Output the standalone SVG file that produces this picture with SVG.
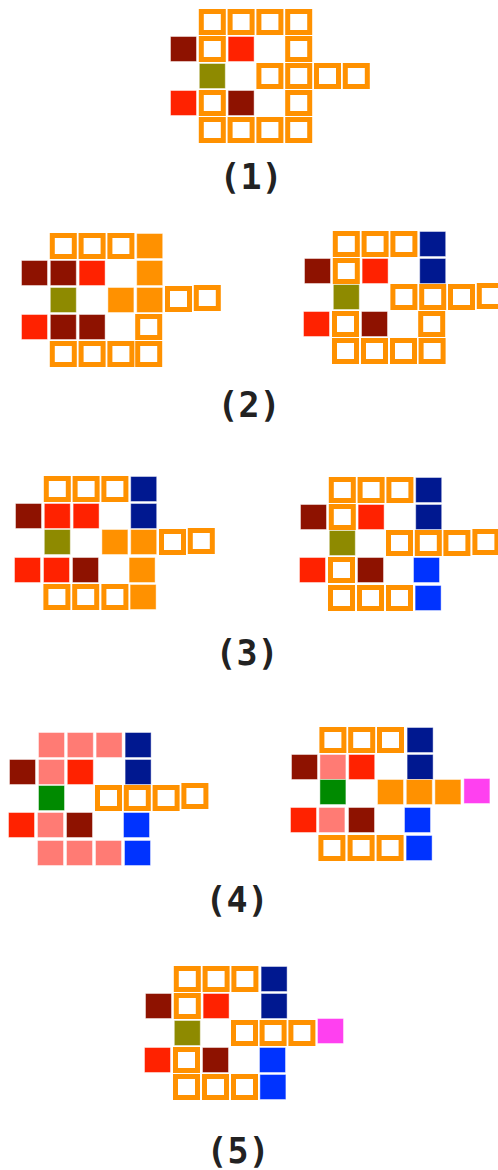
<svg xmlns="http://www.w3.org/2000/svg" xmlns:xlink="http://www.w3.org/1999/xlink" width="498" height="1170" viewBox="0 0 498 1170">
<style>
.o{fill:#fff;stroke:#FF9100;stroke-width:5}
.s{stroke:#fff;stroke-opacity:.45;stroke-width:1}
.f{fill:#FF9100}
.dr{fill:#8E1200}
.r{fill:#FF2200}
.ol{fill:#8E8A00}
.nv{fill:#001890}
.bl{fill:#0033FF}
.pk{fill:#FF7B74}
.gr{fill:#008A00}
.mg{fill:#FF40F0}
.lbl{font-family:"DejaVu Sans Mono","Liberation Mono",monospace;font-weight:bold;font-size:35px;fill:#222;text-anchor:middle}
</style>
<defs>
<rect id="ob" x="2.5" y="2.5" width="22" height="21"/>
<rect id="sq" x="0.5" y="0.5" width="26" height="25"/>
</defs>
<rect width="498" height="1170" fill="#fff"/>

<g id="fig1" transform="translate(170,9)">
<use href="#ob" class="o" x="28.8" y="0"/><use href="#ob" class="o" x="57.6" y="0"/><use href="#ob" class="o" x="86.4" y="0"/><use href="#ob" class="o" x="115.2" y="0"/>
<use href="#sq" class="s dr" x="0" y="27"/><use href="#ob" class="o" x="28.8" y="27"/><use href="#sq" class="s r" x="57.6" y="27"/><use href="#ob" class="o" x="115.2" y="27"/>
<use href="#sq" class="s ol" x="28.8" y="54"/><use href="#ob" class="o" x="86.4" y="54"/><use href="#ob" class="o" x="115.2" y="54"/><use href="#ob" class="o" x="144" y="54"/><use href="#ob" class="o" x="172.8" y="54"/>
<use href="#sq" class="s r" x="0" y="81"/><use href="#ob" class="o" x="28.8" y="81"/><use href="#sq" class="s dr" x="57.6" y="81"/><use href="#ob" class="o" x="115.2" y="81"/>
<use href="#ob" class="o" x="28.8" y="108"/><use href="#ob" class="o" x="57.6" y="108"/><use href="#ob" class="o" x="86.4" y="108"/><use href="#ob" class="o" x="115.2" y="108"/>
</g>
<text id="label1" class="lbl" x="251" y="189">(1)</text>

<g id="fig2a" transform="translate(21,233)">
<use href="#ob" class="o" x="28.8" y="0"/><use href="#ob" class="o" x="57.6" y="0"/><use href="#ob" class="o" x="86.4" y="0"/><use href="#sq" class="s f" x="115.2" y="0"/>
<use href="#sq" class="s dr" x="0" y="27"/><use href="#sq" class="s dr" x="28.8" y="27"/><use href="#sq" class="s r" x="57.6" y="27"/><use href="#sq" class="s f" x="115.2" y="27"/>
<use href="#sq" class="s ol" x="28.8" y="54"/><use href="#sq" class="s f" x="86.4" y="54"/><use href="#sq" class="s f" x="115.2" y="54"/><use href="#ob" class="o" x="144" y="53"/><use href="#ob" class="o" x="172.8" y="52"/>
<use href="#sq" class="s r" x="0" y="81"/><use href="#sq" class="s dr" x="28.8" y="81"/><use href="#sq" class="s dr" x="57.6" y="81"/><use href="#ob" class="o" x="114.2" y="81"/>
<use href="#ob" class="o" x="28.8" y="108"/><use href="#ob" class="o" x="57.6" y="108"/><use href="#ob" class="o" x="86.4" y="108"/><use href="#ob" class="o" x="114.2" y="108"/>
</g>

<g id="fig2b" transform="translate(304,231)">
<use href="#ob" class="o" x="28.8" y="0"/><use href="#ob" class="o" x="57.6" y="0"/><use href="#ob" class="o" x="86.4" y="0"/><use href="#sq" class="s nv" x="115.2" y="0"/>
<use href="#sq" class="s dr" x="0" y="27"/><use href="#ob" class="o" x="28.8" y="27"/><use href="#sq" class="s r" x="57.6" y="27"/><use href="#sq" class="s nv" x="115.2" y="27"/>
<use href="#sq" class="s ol" x="28.8" y="53"/><use href="#ob" class="o" x="86.4" y="53"/><use href="#ob" class="o" x="115.2" y="53"/><use href="#ob" class="o" x="144" y="53"/><use href="#ob" class="o" x="172.8" y="52"/>
<use href="#sq" class="s r" x="-1" y="80"/><use href="#ob" class="o" x="28" y="80"/><use href="#sq" class="s dr" x="57" y="80"/><use href="#ob" class="o" x="114.2" y="80"/>
<use href="#ob" class="o" x="28" y="107"/><use href="#ob" class="o" x="57" y="107"/><use href="#ob" class="o" x="86" y="107"/><use href="#ob" class="o" x="114.6" y="107"/>
</g>
<text id="label2" class="lbl" x="249" y="417">(2)</text>

<g id="fig3a" transform="translate(15,476)">
<use href="#ob" class="o" x="28.8" y="0"/><use href="#ob" class="o" x="57.6" y="0"/><use href="#ob" class="o" x="86.4" y="0"/><use href="#sq" class="s nv" x="115.2" y="0"/>
<use href="#sq" class="s dr" x="0" y="27"/><use href="#sq" class="s r" x="28.8" y="27"/><use href="#sq" class="s r" x="57.6" y="27"/><use href="#sq" class="s nv" x="115.2" y="27"/>
<use href="#sq" class="s ol" x="28.8" y="53"/><use href="#sq" class="s f" x="86.4" y="53"/><use href="#sq" class="s f" x="115.2" y="53"/><use href="#ob" class="o" x="144" y="53"/><use href="#ob" class="o" x="172.8" y="52"/>
<use href="#sq" class="s r" x="-1" y="81"/><use href="#sq" class="s r" x="28" y="81"/><use href="#sq" class="s dr" x="57" y="81"/><use href="#sq" class="s f" x="113.6" y="81"/>
<use href="#ob" class="o" x="28.4" y="108"/><use href="#ob" class="o" x="57.2" y="108"/><use href="#ob" class="o" x="86.4" y="108"/><use href="#sq" class="s f" x="114.6" y="108"/>
</g>

<g id="fig3b" transform="translate(300,477)">
<use href="#ob" class="o" x="28.8" y="0"/><use href="#ob" class="o" x="57.6" y="0"/><use href="#ob" class="o" x="86.4" y="0"/><use href="#sq" class="s nv" x="115.2" y="0"/>
<use href="#sq" class="s dr" x="0" y="27"/><use href="#ob" class="o" x="28.8" y="27"/><use href="#sq" class="s r" x="57.6" y="27"/><use href="#sq" class="s nv" x="115.2" y="27"/>
<use href="#sq" class="s ol" x="28.8" y="53"/><use href="#ob" class="o" x="86" y="53"/><use href="#ob" class="o" x="114.8" y="53"/><use href="#ob" class="o" x="143.4" y="53"/><use href="#ob" class="o" x="172.4" y="52"/>
<use href="#sq" class="s r" x="-1" y="80"/><use href="#ob" class="o" x="28" y="80"/><use href="#sq" class="s dr" x="57" y="80"/><use href="#sq" class="s bl" x="113" y="80"/>
<use href="#ob" class="o" x="28" y="108"/><use href="#ob" class="o" x="57" y="108"/><use href="#ob" class="o" x="86" y="108"/><use href="#sq" class="s bl" x="114.6" y="108"/>
</g>
<text id="label3" class="lbl" x="247" y="665">(3)</text>

<g id="fig4a" transform="translate(9,732)">
<use href="#sq" class="s pk" x="29" y="0"/><use href="#sq" class="s pk" x="57.8" y="0"/><use href="#sq" class="s pk" x="86.6" y="0"/><use href="#sq" class="s nv" x="115.6" y="0"/>
<use href="#sq" class="s dr" x="0" y="27"/><use href="#sq" class="s pk" x="29" y="27"/><use href="#sq" class="s r" x="57.8" y="27"/><use href="#sq" class="s nv" x="115.6" y="27"/>
<use href="#sq" class="s gr" x="29" y="53"/><use href="#ob" class="o" x="86" y="53"/><use href="#ob" class="o" x="114.8" y="53"/><use href="#ob" class="o" x="143.6" y="53"/><use href="#ob" class="o" x="172.4" y="51"/>
<use href="#sq" class="s r" x="-1" y="80"/><use href="#sq" class="s pk" x="28" y="80"/><use href="#sq" class="s dr" x="57" y="80"/><use href="#sq" class="s bl" x="114" y="80"/>
<use href="#sq" class="s pk" x="28" y="108"/><use href="#sq" class="s pk" x="57" y="108"/><use href="#sq" class="s pk" x="86" y="108"/><use href="#sq" class="s bl" x="115" y="108"/>
</g>

<g id="fig4b" transform="translate(291,727)">
<use href="#ob" class="o" x="28.4" y="0"/><use href="#ob" class="o" x="57.2" y="0"/><use href="#ob" class="o" x="86" y="0"/><use href="#sq" class="s nv" x="115.6" y="0"/>
<use href="#sq" class="s dr" x="0" y="27"/><use href="#sq" class="s pk" x="28.4" y="27"/><use href="#sq" class="s r" x="57.2" y="27"/><use href="#sq" class="s nv" x="115.6" y="27"/>
<use href="#sq" class="s gr" x="28.4" y="52"/><use href="#sq" class="s f" x="86" y="52"/><use href="#sq" class="s f" x="114.8" y="52"/><use href="#sq" class="s f" x="143.4" y="52"/><use href="#sq" class="s mg" x="172.4" y="51"/>
<use href="#sq" class="s r" x="-1" y="80"/><use href="#sq" class="s pk" x="27.4" y="80"/><use href="#sq" class="s dr" x="57" y="80"/><use href="#sq" class="s bl" x="113" y="80"/>
<use href="#ob" class="o" x="27.4" y="108"/><use href="#ob" class="o" x="56.6" y="108"/><use href="#ob" class="o" x="85.6" y="108"/><use href="#sq" class="s bl" x="114.6" y="108"/>
</g>
<text id="label4" class="lbl" x="237" y="912">(4)</text>

<g id="fig5" transform="translate(145,966)">
<use href="#ob" class="o" x="28.8" y="0"/><use href="#ob" class="o" x="57.6" y="0"/><use href="#ob" class="o" x="86.4" y="0"/><use href="#sq" class="s nv" x="115.6" y="0"/>
<use href="#sq" class="s dr" x="0" y="27"/><use href="#ob" class="o" x="28.8" y="27"/><use href="#sq" class="s r" x="57.6" y="27"/><use href="#sq" class="s nv" x="115.6" y="27"/>
<use href="#sq" class="s ol" x="28.8" y="54"/><use href="#ob" class="o" x="86" y="54"/><use href="#ob" class="o" x="114.6" y="54"/><use href="#ob" class="o" x="143.4" y="54"/><use href="#sq" class="s mg" x="172" y="52"/>
<use href="#sq" class="s r" x="-1" y="81"/><use href="#ob" class="o" x="28" y="81"/><use href="#sq" class="s dr" x="57" y="81"/><use href="#sq" class="s bl" x="114" y="81"/>
<use href="#ob" class="o" x="28" y="108"/><use href="#ob" class="o" x="57" y="108"/><use href="#ob" class="o" x="86" y="108"/><use href="#sq" class="s bl" x="114.4" y="108"/>
</g>
<text id="label5" class="lbl" x="238" y="1163">(5)</text>
</svg>
